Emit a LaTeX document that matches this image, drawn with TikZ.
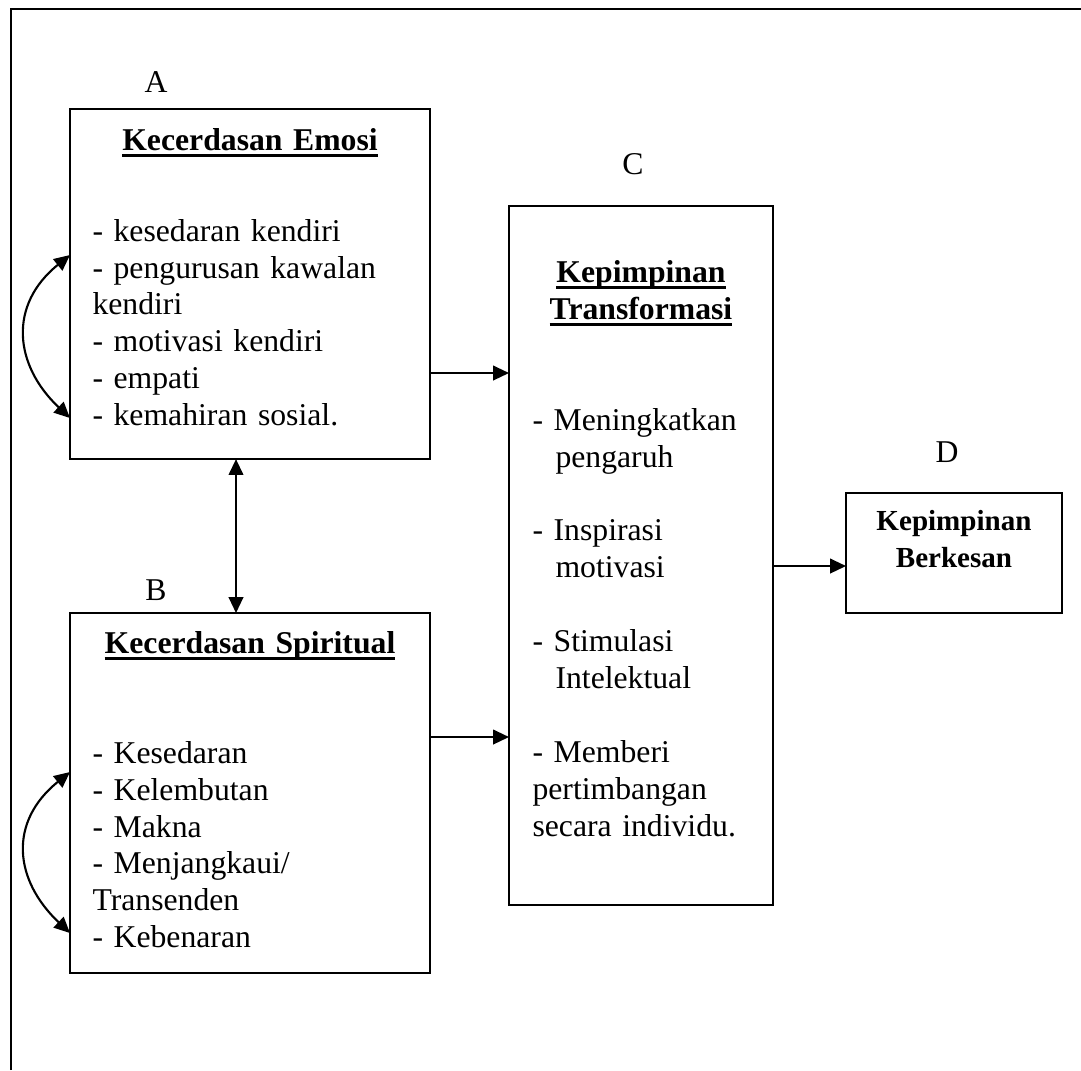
\documentclass[tikz,border=0pt]{standalone}
\usepackage{fontspec}
\setmainfont{Liberation Serif}
\usetikzlibrary{arrows.meta,positioning}
\newcommand{\ulhead}[1]{\mbox{\setbox0=\hbox{#1}\rlap{\raisebox{-2.8pt}{\rule{\wd0}{1.3pt}}}\copy0}}

\begin{document}
\begin{tikzpicture}[
    x=0.3785pt, y=-0.3785pt,
    box/.style={draw=black, line width=0.9pt, rectangle, anchor=north west, inner sep=0pt, outer sep=0pt},
    txt/.style={font=\fontsize{12}{14}\selectfont, inner sep=0pt, anchor=base west, align=left},
    head/.style={font=\fontsize{12}{14}\selectfont\bfseries, inner sep=0pt, anchor=base, align=center},
    tag/.style={font=\fontsize{12}{14}\selectfont, inner sep=0pt, anchor=base},
    arrow/.style={-{Triangle[length=6pt,width=5.5pt]}, line width=0.8pt},
    twoway/.style={{Triangle[length=6pt,width=5.5pt]}-{Triangle[length=6pt,width=5.5pt]}, line width=0.8pt}
]
  \useasboundingbox (0,0) rectangle (1081,1070);
  % Frame
  \draw[line width=0.8pt] (11,1070) -- (11,9) -- (1081,9);

  % Boxes
  \node (emosi)  [box, minimum width=136.3pt, minimum height=132.5pt] at (70,109) {};
  \node (spirit) [box, minimum width=136.3pt, minimum height=136.3pt] at (70,613) {};
  \node (trans)  [box, minimum width=99.9pt,  minimum height=264.6pt] at (509,206) {};
  \node (kesan)  [box, minimum width=81.8pt,  minimum height=45.4pt]  at (846,493) {};

  % Labels
  \node (labA) [tag] at (156,92) {A};
  \node (labB) [tag] at (156,600) {B};
  \node (labC) [tag] at (633,174) {C};
  \node (labD) [tag] at (947,462) {D};

  % Box texts
  \node (hdA) [head, text width=130pt] at (250,150) {\ulhead{Kecerdasan Emosi}};
  \node (lstA) [txt, text width=125pt] at (92,241) {- kesedaran kendiri\\- pengurusan kawalan\\kendiri\\- motivasi kendiri\\- empati\\- kemahiran sosial.};

  \node (hdB) [head, text width=130pt] at (250,653) {\ulhead{Kecerdasan Spiritual}};
  \node (lstB) [txt, text width=125pt] at (92,763) {- Kesedaran\\- Kelembutan\\- Makna\\- Menjangkaui/\\Transenden\\- Kebenaran};

  \node (hdC) [head, text width=95pt] at (641,282) {\ulhead{Kepimpinan}\\\ulhead{Transformasi}};
  \node (lstC) [txt, text width=90pt] at (532,430) {- Meningkatkan\\\hspace*{8.7pt}pengaruh\\[14pt]- Inspirasi\\\hspace*{8.7pt}motivasi\\[14pt]- Stimulasi\\\hspace*{8.7pt}Intelektual\\[14pt]- Memberi\\pertimbangan\\secara individu.};

  \node (hdD) [head, font=\fontsize{11}{14}\selectfont\bfseries, text width=75pt] at (954,530) {Kepimpinan\\Berkesan};

  % Arrows
  \coordinate (yac) at (0,373);
  \coordinate (ybc) at (0,737);
  \coordinate (ycd) at (0,566);
  \coordinate (xab) at (236,0);
  \draw[arrow] (emosi.east |- yac) -- (trans.west |- yac);
  \draw[arrow] (spirit.east |- ybc) -- (trans.west |- ybc);
  \draw[arrow] (trans.east |- ycd) -- (kesan.west |- ycd);
  \draw[twoway] (emosi.south -| xab) -- (spirit.north -| xab);

  % Loops on the left
  \coordinate (eTop) at (70,255);
  \coordinate (eBot) at (70,418);
  \coordinate (sTop) at (70,772);
  \coordinate (sBot) at (70,933);
  \draw[twoway] (eTop) .. controls (8,305) and (14,365) .. (eBot);
  \draw[twoway] (sTop) .. controls (8,822) and (14,880) .. (sBot);

\end{tikzpicture}
\end{document}
